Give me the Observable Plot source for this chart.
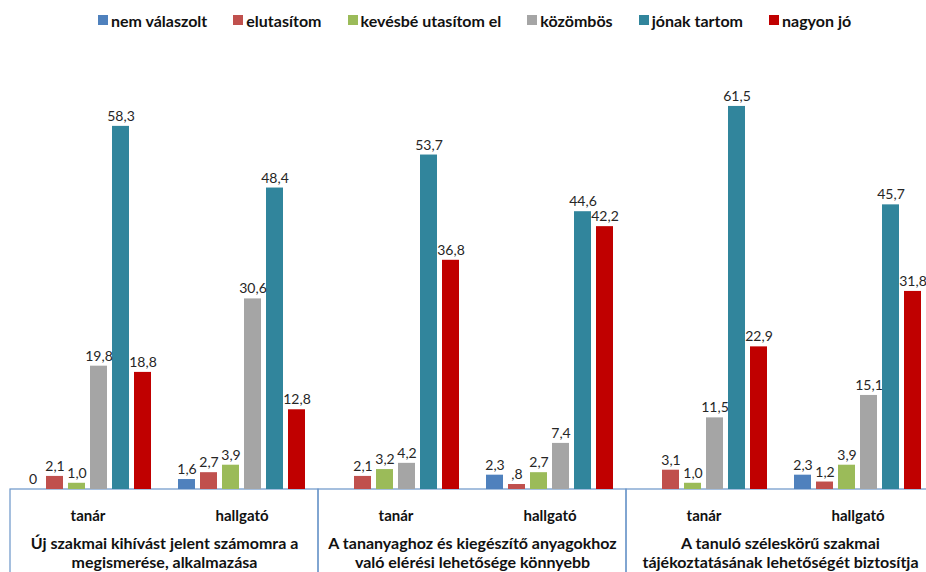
<!DOCTYPE html>
<html><head><meta charset="utf-8">
<script src="https://cdn.jsdelivr.net/npm/d3@7"></script>
<script src="https://cdn.jsdelivr.net/npm/@observablehq/plot@0.6"></script>
<style>
body{margin:0;background:#fff;font-family:Lato,"Open Sans",sans-serif;overflow:hidden;}
#legend{height:40px;padding-left:98px;box-sizing:border-box;display:flex;align-items:center;}
div.lg-swatches{min-height:0;margin:0;font-family:Lato,sans-serif;font-size:16px;font-weight:bold;color:#111;}
div.lg-swatches .lg-swatch{margin-right:26px;}
div.lg-swatches .lg-swatch svg{margin-right:3px;}
#chart svg{overflow:visible;}
</style></head><body>
<div id="legend"></div><div id="chart"></div>
<script>
// categories
const groups = [
  "Új szakmai kihívást jelent számomra a\nmegismerése, alkalmazása",
  "A tananyaghoz és kiegészítő anyagokhoz\nvaló elérési lehetősége könnyebb",
  "A tanuló széleskörű szakmai\ntájékoztatásának lehetőségét biztosítja"
];
const subgroups = ["tanár", "hallgató"];
const series = ["nem válaszolt", "elutasítom", "kevésbé utasítom el", "közömbös", "jónak tartom", "nagyon jó"];
const colors = ["#4F81BD", "#C0504D", "#9BBB59", "#A5A5A5", "#31859C", "#C00000"];
// values, order: g1 tanár, g1 hallgató, g2 tanár, g2 hallgató, g3 tanár, g3 hallgató
const nemValaszolt     = [0,    1.6,  null, 2.3,  null, 2.3];
const elutasitom       = [2.1,  2.7,  2.1,  0.8,  3.1,  1.2];
const kevesbeUtasitom  = [1.0,  3.9,  3.2,  2.7,  1.0,  3.9];
const kozombos         = [19.8, 30.6, 4.2,  7.4,  11.5, 15.1];
const jonakTartom      = [58.3, 48.4, 53.7, 44.6, 61.5, 45.7];
const nagyonJo         = [18.8, 12.8, 36.8, 42.2, 22.9, 31.8];
const seriesValues = [nemValaszolt, elutasitom, kevesbeUtasitom, kozombos, jonakTartom, nagyonJo];

const data = [];
groups.forEach((g, gi) => subgroups.forEach((s, si) => series.forEach((se, k) => {
  data.push({group: g, sub: s, series: se, key: s + "|" + se, value: seriesValues[k][gi * 2 + si]});
})));
const xDomain = [...series.map(se => "tanár|" + se), "gap", ...series.map(se => "hallgató|" + se)];
const subLabels = [];
groups.forEach(g => subgroups.forEach(s => subLabels.push({group: g, sub: s, key: s + "|" + series[2]})));

const fmt = v => {
  if (v === 0) return "0";
  let s = v.toFixed(1).replace(".", ",");
  if (v < 1) s = s.replace(/^0/, "");
  return s;
};

const W = 926, H = 532, ML = 10, MB = 83, MT = 13;
const fxRange = [10, 934];
const pInner = 0.23, pOuter = 0.615;
const step = (fxRange[1] - fxRange[0]) / 3 / (xDomain.length - pInner + 2 * pOuter);

const color = {domain: series, range: colors};

document.getElementById("legend").append(Plot.legend({
  color: {type: "ordinal", ...color},
  swatchSize: 10,
  className: "lg"
}));

const chart = Plot.plot({
  width: W, height: H,
  marginLeft: ML, marginRight: 0, marginTop: MT, marginBottom: MB,
  style: {fontFamily: "Lato, sans-serif", background: "white"},
  fx: {domain: groups, range: fxRange, padding: 0, axis: null},
  x: {domain: xDomain, paddingInner: pInner, paddingOuter: pOuter, axis: null},
  y: {domain: [0, 70], axis: null},
  color,
  marks: [
    Plot.rect(groups, {fx: d => d, y1: 0, y2: -14, fill: "none", stroke: "#6a95c9", strokeWidth: 1.2}),
    Plot.barY(data.filter(d => d.value != null), {fx: "group", x: "key", y: "value", fill: "series"}),
    Plot.text(data.filter(d => d.value != null), {fx: "group", x: "key", y: "value", text: d => fmt(d.value), dy: -10, fontSize: 14, fill: "#262626"}),
    Plot.text(subLabels, {fx: "group", x: "key", y: 0, text: "sub", dx: step / 2, dy: 27, fontSize: 15, fontWeight: "bold", fill: "#111"}),
    Plot.text(groups, {fx: d => d, frameAnchor: "bottom", text: d => d, dy: 63, lineHeight: 1.2, lineAnchor: "middle", fontSize: 16, fontWeight: "bold", fill: "#111"})
  ]
});
document.getElementById("chart").append(chart);
</script>
</body></html>
